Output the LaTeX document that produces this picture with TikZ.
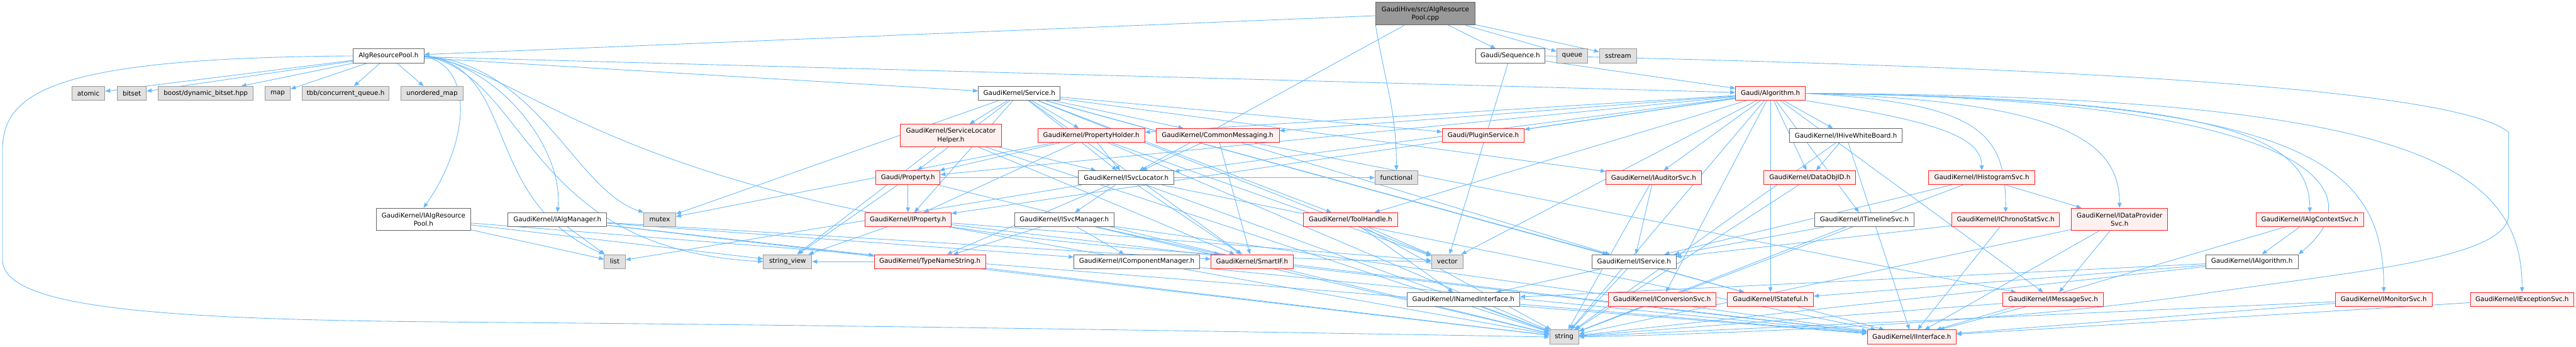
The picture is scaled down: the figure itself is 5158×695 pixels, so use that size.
\documentclass[tikz,border=0pt]{standalone}
\usepackage{fontspec}
\setmainfont{DejaVu Sans}
\usetikzlibrary{arrows.meta}
\definecolor{eblue}{HTML}{63B8FF}
\definecolor{nred}{HTML}{FF2020}
\definecolor{nredfill}{HTML}{FFF0F0}
\definecolor{ngray}{HTML}{666666}
\definecolor{lgray}{HTML}{999999}
\definecolor{gfill}{HTML}{E0E0E0}
\definecolor{rootfill}{HTML}{999999}
\pgfdeclarelayer{background}
\pgfsetlayers{background,main}
\tikzset{
  base/.style={draw, line width=1.2pt, inner sep=0pt, minimum height=28pt,
    font=\fontsize{13}{16.5}\selectfont, align=center, text=black},
  rn/.style={base, draw=nred, fill=nredfill},
  wn/.style={base, draw=ngray, fill=white},
  gn/.style={base, draw=lgray, fill=gfill},
  rootn/.style={base, draw=ngray, fill=rootfill},
  tall/.style={minimum height=45pt},
  edg/.style={draw=eblue, line width=1.1pt, -{Triangle[length=10pt,width=8pt]}},
}
\begin{document}
\begin{tikzpicture}[x=1pt,y=-1pt]
\useasboundingbox (0,0) rectangle (5158,695);
% nodes
\node[rootn,tall,minimum width=198pt] (root) at (2854,27.5) {GaudiHive/src/AlgResource\\Pool.cpp};
\node[wn,minimum width=142pt] (arp) at (778,112) {AlgResourcePool.h};
\node[gn,minimum width=66pt] (atomic) at (177,187) {atomic};
\node[gn,minimum width=58pt] (bitset) at (264,187) {bitset};
\node[gn,minimum width=190pt] (boost) at (412,187) {boost/dynamic\_bitset.hpp};
\node[gn,minimum width=51pt] (map) at (556,187) {map};
\node[gn,minimum width=174pt] (tbb) at (692,187) {tbb/concurrent\_queue.h};
\node[gn,minimum width=124pt] (umap) at (865,187) {unordered\_map};
\node[wn,tall,minimum width=189pt] (iarp) at (848,439.5) {GaudiKernel/IAlgResource\\Pool.h};
\node[wn,minimum width=198pt] (ialgmgr) at (1116,440) {GaudiKernel/IAlgManager.h};
\node[gn,minimum width=64pt] (mutex) at (1321,440) {mutex};
\node[gn,minimum width=42pt] (list) at (1231,524) {list};
\node[gn,minimum width=97pt] (strview) at (1577,524) {string\_view};
\node[wn,minimum width=164pt] (service) at (2041,187) {GaudiKernel/Service.h};
\node[rn,tall,minimum width=202pt] (slh) at (1904,271.5) {GaudiKernel/ServiceLocator\\Helper.h};
\node[rn,minimum width=214pt] (propholder) at (2185,271.5) {GaudiKernel/PropertyHolder.h};
\node[rn,minimum width=247pt] (commsg) at (2438,271.5) {GaudiKernel/CommonMessaging.h};
\node[rn,minimum width=129pt] (gprop) at (1818,356) {Gaudi/Property.h};
\node[wn,minimum width=191pt] (isvcloc) at (2255,356) {GaudiKernel/ISvcLocator.h};
\node[rn,minimum width=173pt] (iprop) at (1818,440) {GaudiKernel/IProperty.h};
\node[wn,minimum width=199pt] (isvcmgr) at (2131,440) {GaudiKernel/ISvcManager.h};
\node[rn,minimum width=223pt] (typename) at (1862,524) {GaudiKernel/TypeNameString.h};
\node[wn,minimum width=251pt] (icompmgr) at (2276,524) {GaudiKernel/IComponentManager.h};
\node[rn,minimum width=165pt] (smartif) at (2507,524) {GaudiKernel/SmartIF.h};
\node[wn,minimum width=139pt] (seq) at (3024,112) {Gaudi/Sequence.h};
\node[gn,minimum width=62pt] (queue) at (3148,112) {queue};
\node[gn,minimum width=75pt] (sstream) at (3240,112) {sstream};
\node[rn,minimum width=164pt] (plugin) at (2970,271.5) {Gaudi/PluginService.h};
\node[gn,minimum width=86pt] (functional) at (2796,356) {functional};
\node[rn,minimum width=191pt] (iauditor) at (3311,356) {GaudiKernel/IAuditorSvc.h};
\node[rn,minimum width=189pt] (toolhandle) at (2704,440) {GaudiKernel/ToolHandle.h};
\node[gn,minimum width=63pt] (vector) at (2898,524) {vector};
\node[wn,minimum width=168pt] (iservice) at (3272,524) {GaudiKernel/IService.h};
\node[wn,minimum width=226pt] (inamed) at (2930,600) {GaudiKernel/INamedInterface.h};
\node[rn,minimum width=216pt] (iconv) at (3328,600) {GaudiKernel/IConversionSvc.h};
\node[gn,minimum width=58pt] (string) at (3132,675) {string};
\node[rn,minimum width=140pt] (algorithm) at (3545,187) {Gaudi/Algorithm.h};
\node[wn,minimum width=226pt] (hivewb) at (3696,271.5) {GaudiKernel/IHiveWhiteBoard.h};
\node[rn,minimum width=184pt] (dataobjid) at (3624,356) {GaudiKernel/DataObjID.h};
\node[rn,minimum width=212pt] (ihisto) at (3968,356) {GaudiKernel/IHistogramSvc.h};
\node[wn,minimum width=200pt] (itimeline) at (3733,440) {GaudiKernel/ITimelineSvc.h};
\node[rn,minimum width=216pt] (ichrono) at (4016,440) {GaudiKernel/IChronoStatSvc.h};
\node[rn,tall,minimum width=193pt] (idataprov) at (4244,439.5) {GaudiKernel/IDataProvider\\Svc.h};
\node[rn,minimum width=172pt] (istateful) at (3545,600) {GaudiKernel/IStateful.h};
\node[rn,minimum width=201pt] (imsgsvc) at (4111,600) {GaudiKernel/IMessageSvc.h};
\node[rn,minimum width=178pt] (iinterface) at (3828,675) {GaudiKernel/IInterface.h};
\node[rn,minimum width=215pt] (ialgctx) at (4625,440) {GaudiKernel/IAlgContextSvc.h};
\node[wn,minimum width=185pt] (ialgorithm) at (4509,524) {GaudiKernel/IAlgorithm.h};
\node[rn,minimum width=194pt] (imonitor) at (4773,600) {GaudiKernel/IMonitorSvc.h};
\node[rn,minimum width=207pt] (iexcept) at (5050,600) {GaudiKernel/IExceptionSvc.h};
% edges
\begin{pgfonlayer}{background}
\foreach \a/\b in {root/arp, root/seq, root/queue, root/sstream, root/isvcloc,
  arp/atomic, arp/bitset, arp/boost, arp/map, arp/tbb, arp/umap,
  arp/service, arp/algorithm,
  iarp/list, iarp/strview, iarp/iinterface,
  ialgmgr/list, ialgmgr/typename, ialgmgr/icompmgr, ialgmgr/smartif, ialgmgr/string,
  service/slh, service/propholder, service/commsg, service/gprop, service/isvcloc,
  service/iprop, service/mutex, service/plugin, service/iauditor, service/toolhandle,
  service/iservice, service/istateful, service/smartif, service/vector,
  slh/isvcloc, slh/smartif, slh/strview, slh/string,
  propholder/gprop, propholder/iprop, propholder/isvcloc, propholder/mutex,
  propholder/vector, propholder/string,
  commsg/isvcloc, commsg/smartif, commsg/iservice, commsg/imsgsvc,
  gprop/iprop, gprop/strview, gprop/functional, gprop/string,
  isvcloc/isvcmgr, isvcloc/typename, isvcloc/smartif, isvcloc/iinterface, isvcloc/list, isvcloc/string,
  iprop/iinterface, iprop/strview, iprop/string, iprop/vector,
  isvcmgr/icompmgr, isvcmgr/smartif, isvcmgr/typename, isvcmgr/string, isvcmgr/iinterface,
  typename/string, typename/strview, icompmgr/iinterface, smartif/iinterface,
  seq/algorithm, seq/vector,
  iauditor/iservice, iauditor/string,
  toolhandle/inamed, toolhandle/vector, toolhandle/string,
  iservice/inamed, iservice/string, iservice/istateful,
  inamed/iinterface, inamed/string, iconv/string,
  algorithm/plugin, algorithm/iauditor, algorithm/propholder, algorithm/commsg, algorithm/gprop,
  algorithm/isvcloc, algorithm/iprop, algorithm/toolhandle, algorithm/vector, algorithm/string,
  algorithm/iconv, algorithm/istateful, algorithm/imsgsvc, algorithm/dataobjid, algorithm/hivewb,
  algorithm/itimeline,
  hivewb/dataobjid, hivewb/iinterface, hivewb/string, dataobjid/string,
  ihisto/idataprov, ihisto/iservice, ihisto/string,
  itimeline/iservice, itimeline/string, ichrono/iservice, ichrono/iinterface,
  idataprov/iinterface, idataprov/string, idataprov/imsgsvc,
  ialgctx/ialgorithm, ialgctx/iinterface,
  ialgorithm/istateful, ialgorithm/inamed, ialgorithm/string,
  imonitor/iinterface, imonitor/string, iexcept/iinterface,
  istateful/iinterface, imsgsvc/iinterface, imsgsvc/string}
  \draw[edg] (\a) -- (\b);
% curved connectors
\draw[edg] (root.south west) .. controls +(20,120) and +(0,-120) .. (functional.north);
\draw[edg] (arp.east) .. controls (960,140) and (930,300) .. (iarp.north);
\draw[edg] (arp.east) .. controls (1000,130) and (1130,300) .. (ialgmgr.north);
\draw[edg] (arp.east) .. controls (1040,135) and (960,400) .. (list.north west);
\draw[edg] (arp.east) .. controls (1080,130) and (1150,380) .. (mutex.north west);
\draw[edg] (arp.east) .. controls (1060,150) and (1050,500) .. (strview.west);
\draw[edg] (arp.east) .. controls (1100,150) and (1300,505) .. (vector.west);
\draw[edg] (algorithm.south east) .. controls +(250,40) and +(0,-70) .. (ihisto.north);
\draw[edg] (algorithm.east) .. controls +(350,20) and +(0,-160) .. (ichrono.north);
\draw[edg] (algorithm.east) .. controls +(500,15) and +(0,-140) .. (idataprov.north);
\draw[edg] (algorithm.east) .. controls +(800,10) and +(0,-160) .. (ialgctx.north);
\draw[edg] (algorithm.east) .. controls +(1050,10) and +(150,-120) .. (ialgorithm.north east);
\draw[edg] (algorithm.east) .. controls +(1000,10) and +(0,-260) .. (imonitor.north);
\draw[edg] (algorithm.east) .. controls +(1200,5) and +(0,-260) .. (iexcept.north);
\draw[edg] (arp.west) .. controls (120,116) and (5,180) .. (5,300) -- (5,520)
  .. controls (5,615) and (300,640) .. (900,645)
  .. controls (1800,652) and (2700,668) .. (string.west);
\draw[edg] (seq.east) .. controls (3800,128) and (4900,160) .. (5023,265) -- (5023,430)
  .. controls (5023,520) and (4700,545) .. (4400,590)
  .. controls (4000,650) and (3400,670) .. (string.east);
\end{pgfonlayer}
\end{tikzpicture}
\end{document}
